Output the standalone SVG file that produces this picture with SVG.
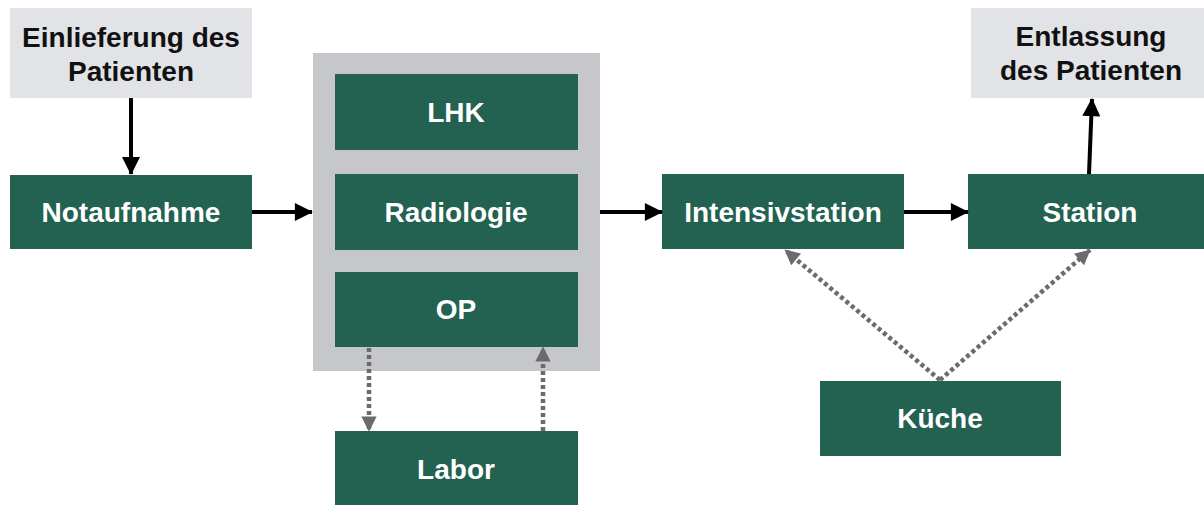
<svg xmlns="http://www.w3.org/2000/svg" width="1204" height="505" viewBox="0 0 1204 505">
<defs>
<style>
.g{fill:#236150}
.l{fill:#e2e3e7}
.t{font-family:"Liberation Sans",Arial,sans-serif;font-weight:bold;font-size:28px;text-anchor:middle}
.w{fill:#ffffff}
.k{fill:#111111}
.s{stroke:#000;stroke-width:4;fill:none}
.d{stroke:#6b6b6b;stroke-width:4.5;stroke-dasharray:4 3;fill:none}
</style>
<marker id="ab" viewBox="0 0 10 10" refX="9.5" refY="5" markerWidth="5.5" markerHeight="4.5" markerUnits="strokeWidth" orient="auto"><path d="M0,0 L10,5 L0,10 z" fill="#000"/></marker>
<marker id="ag" viewBox="0 0 10 10" refX="9.5" refY="5" markerWidth="4.9" markerHeight="3.4" markerUnits="strokeWidth" orient="auto"><path d="M0,0 L10,5 L0,10 z" fill="#6b6b6b"/></marker>
</defs>
<rect width="1204" height="505" fill="#fff"/>
<g id="einlieferung"><rect class="l" x="10" y="8" width="242" height="90"/><text class="t k" x="131" y="47">Einlieferung des</text><text class="t k" x="131" y="81">Patienten</text></g>
<g id="notaufnahme"><rect class="g" x="10" y="175" width="242" height="74"/><text class="t w" x="131" y="222">Notaufnahme</text></g>
<g id="container"><rect fill="#c5c7cb" x="313" y="53" width="287" height="318"/></g>
<g id="lhk"><rect class="g" x="335" y="74" width="243" height="76"/><text class="t w" x="456" y="122">LHK</text></g>
<g id="radiologie"><rect class="g" x="335" y="174" width="243" height="76"/><text class="t w" x="456" y="222">Radiologie</text></g>
<g id="op"><rect class="g" x="335" y="272" width="243" height="75"/><text class="t w" x="456" y="319">OP</text></g>
<g id="labor"><rect class="g" x="335" y="431" width="243" height="74"/><text class="t w" x="456" y="479">Labor</text></g>
<g id="intensivstation"><rect class="g" x="662" y="174" width="242" height="75"/><text class="t w" x="783" y="222">Intensivstation</text></g>
<g id="station"><rect class="g" x="968" y="174" width="242" height="75"/><text class="t w" x="1090" y="222">Station</text></g>
<g id="entlassung"><rect class="l" x="971" y="8" width="240" height="90"/><text class="t k" x="1091" y="46">Entlassung</text><text class="t k" x="1091" y="80">des Patienten</text></g>
<g id="kueche"><rect class="g" x="820" y="381" width="241" height="75"/><text class="t w" x="940" y="428">Küche</text></g>
<g id="connectors">
<line class="s" x1="131" y1="98" x2="131" y2="174" marker-end="url(#ab)"/>
<line class="s" x1="252" y1="212" x2="312" y2="212" marker-end="url(#ab)"/>
<line class="s" x1="600" y1="212" x2="662" y2="212" marker-end="url(#ab)"/>
<line class="s" x1="904" y1="212" x2="968" y2="212" marker-end="url(#ab)"/>
<line class="s" x1="1089" y1="174" x2="1092" y2="99" marker-end="url(#ab)"/>
<line class="d" x1="369" y1="348" x2="369" y2="431" marker-end="url(#ag)"/>
<line class="d" x1="543" y1="431" x2="543" y2="347" marker-end="url(#ag)"/>
<line class="d" x1="940" y1="380" x2="785" y2="250" marker-end="url(#ag)"/>
<line class="d" x1="940" y1="380" x2="1090" y2="250" marker-end="url(#ag)"/>
</g>
</svg>
